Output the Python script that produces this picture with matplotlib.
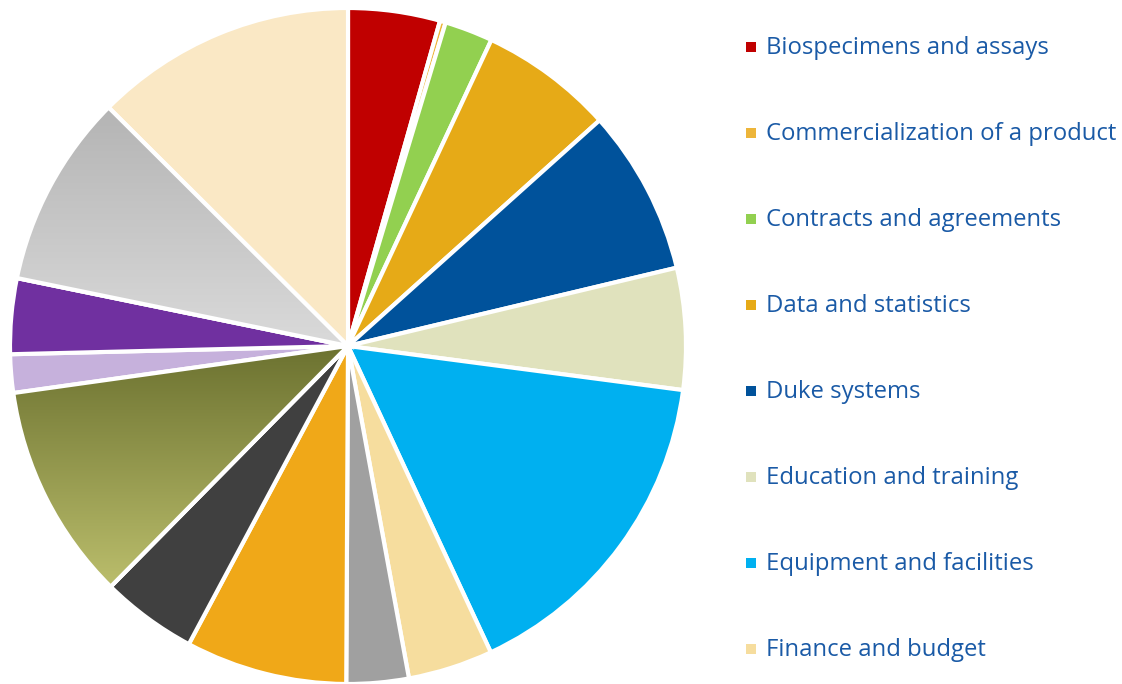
import matplotlib
matplotlib.use("Agg")
import matplotlib.pyplot as plt
import numpy as np
from matplotlib.patches import Wedge
from matplotlib.colors import LinearSegmentedColormap

categories = [
    "Biospecimens and assays",
    "Commercialization of a product",
    "Contracts and agreements",
    "Data and statistics",
    "Duke systems",
    "Education and training",
    "Equipment and facilities",
    "Finance and budget",
    "Category 9",
    "Category 10",
    "Category 11",
    "Category 12",
    "Category 13",
    "Category 14",
    "Category 15",
    "Category 16",
]
values = [15.8, 1.0, 8.3, 23.0, 28.5, 20.9, 57.5, 14.6,
          10.7, 27.8, 16.5, 37.4, 6.6, 13.0, 33.3, 45.1]
colors = ["#C00000", "#EDB53A", "#92D050", "#E6AA17", "#00529B", "#E0E2BD",
          "#00B0F0", "#F6DD9E", "#A0A0A0", "#F0A818", "#404040", "#949A48",
          "#C6B1DC", "#7030A0", "#C8C8C8", "#FAE8C5"]
gradients = {11: ("#6C7230", "#BBBE6C"), 14: ("#B4B4B4", "#DADADA")}
legend_count = 8

W, H = 1122, 684
fig = plt.figure(figsize=(W / 100, H / 100), dpi=100)
ax = fig.add_axes([0, 0, 1, 1])
ax.set_xlim(0, W)
ax.set_ylim(0, H)
ax.set_aspect("equal")
ax.axis("off")

cx, cy, R = 348, H - 346, 338
wedges, _ = ax.pie(values, colors=colors, startangle=90, counterclock=False,
                   center=(cx, cy), radius=R, frame=True,
                   wedgeprops=dict(edgecolor="white", linewidth=3))
ax.set_xlim(0, W)
ax.set_ylim(0, H)
ax.axis("off")

for idx, (c0, c1) in gradients.items():
    w = wedges[idx]
    bb = w.get_path().get_extents(w.get_transform())
    inv = ax.transData.inverted()
    (x0, y0), (x1, y1) = inv.transform([[bb.x0, bb.y0], [bb.x1, bb.y1]])
    cmap = LinearSegmentedColormap.from_list("g%d" % idx, [c1, c0])
    grad = np.linspace(0, 1, 256).reshape(-1, 1)
    im = ax.imshow(grad, extent=(x0, x1, y0, y1), origin="lower", cmap=cmap,
                   aspect="auto", zorder=1.1, interpolation="bilinear")
    im.set_clip_path(w)
    edge = Wedge(w.center, w.r, w.theta1, w.theta2, facecolor="none",
                 edgecolor="white", linewidth=3, zorder=1.2)
    ax.add_patch(edge)

ax.set_xlim(0, W)
ax.set_ylim(0, H)

text_color = "#1A5AA6"
row_y = 47
row_gap = 86
for i in range(legend_count):
    y = H - (row_y + i * row_gap)
    ax.scatter([751], [y], marker="s", s=55, color=colors[i], linewidths=0, zorder=3)
    ax.text(766, y - 1.5, categories[i], color=text_color, fontsize=17.2,
            family=["Open Sans", "DejaVu Sans"], va="center", ha="left")

fig.savefig("out.png", dpi=100, facecolor="white")
